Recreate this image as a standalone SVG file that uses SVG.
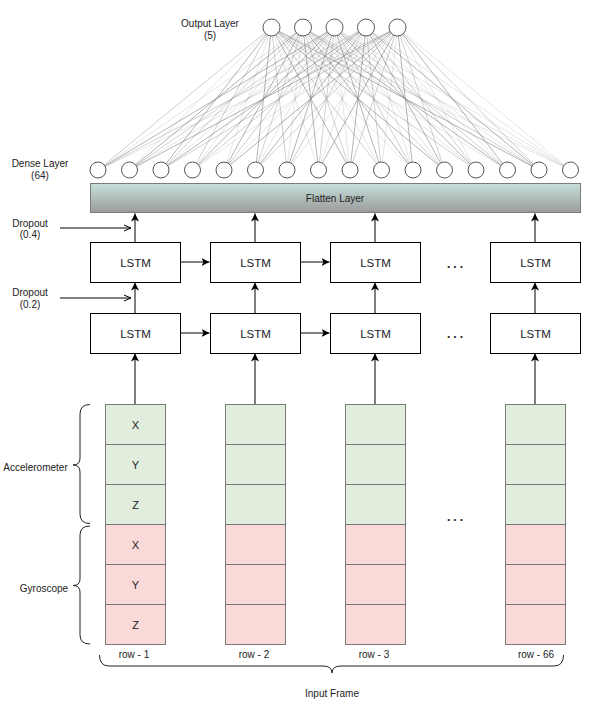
<svg xmlns="http://www.w3.org/2000/svg" width="590" height="708" viewBox="0 0 590 708">
<style>
text{font-family:"Liberation Sans",Arial,sans-serif;fill:#222;font-size:10px;text-anchor:middle}
.neu{fill:#fff;stroke:#555;stroke-width:1}
.lstm{fill:#fff;stroke:#000;stroke-width:1}
.lstm-t{font-size:11.5px}
.ax{font-size:11px}
.acc{fill:#e1eedd;stroke:#777;stroke-width:1}
.gyr{fill:#fadad8;stroke:#777;stroke-width:1}
.arr{stroke:#000;stroke-width:1;fill:none;marker-end:url(#ah)}
.drop{stroke:#000;stroke-width:1;fill:none;marker-end:url(#oh)}
.br{stroke:#222;stroke-width:1;fill:none}
.dots{font-size:12px;font-weight:bold;letter-spacing:3px}
.e0{stroke:#888;stroke-opacity:0.4}
.e1{stroke:#888;stroke-opacity:0.22}
.e2{stroke:#777;stroke-opacity:0.55}
line{stroke-width:1}
</style>
<defs>
<linearGradient id="fl" x1="0" y1="0" x2="0" y2="1">
<stop offset="0" stop-color="#c6e0db"/>
<stop offset="1" stop-color="#9b9b9b"/>
</linearGradient>
<marker id="ah" markerUnits="userSpaceOnUse" markerWidth="10" markerHeight="10" refX="8" refY="4" orient="auto">
<path d="M0,0 L8,4 L0,8 L2,4 z" fill="#000"/>
</marker>
<marker id="oh" markerUnits="userSpaceOnUse" markerWidth="10" markerHeight="10" refX="7" refY="4" orient="auto">
<path d="M0,1 L7,4 L0,7" fill="none" stroke="#000" stroke-width="1"/>
</marker>
</defs>
<rect width="590" height="708" fill="#fff"/>

<g id="connectors">
<g id="dense-output-edges">
<line class="e0" x1="271.5" y1="27.5" x2="98" y2="170"/>
<line class="e1" x1="271.5" y1="27.5" x2="129.5" y2="170"/>
<line class="e2" x1="271.5" y1="27.5" x2="161" y2="170"/>
<line class="e0" x1="271.5" y1="27.5" x2="192.5" y2="170"/>
<line class="e1" x1="271.5" y1="27.5" x2="224" y2="170"/>
<line class="e2" x1="271.5" y1="27.5" x2="255.5" y2="170"/>
<line class="e0" x1="271.5" y1="27.5" x2="287" y2="170"/>
<line class="e1" x1="271.5" y1="27.5" x2="318.5" y2="170"/>
<line class="e2" x1="271.5" y1="27.5" x2="350" y2="170"/>
<line class="e0" x1="271.5" y1="27.5" x2="381.5" y2="170"/>
<line class="e1" x1="271.5" y1="27.5" x2="413" y2="170"/>
<line class="e2" x1="271.5" y1="27.5" x2="444.5" y2="170"/>
<line class="e0" x1="271.5" y1="27.5" x2="476" y2="170"/>
<line class="e1" x1="271.5" y1="27.5" x2="507.5" y2="170"/>
<line class="e2" x1="271.5" y1="27.5" x2="539" y2="170"/>
<line class="e1" x1="271.5" y1="27.5" x2="570.5" y2="170"/>

<line class="e1" x1="303" y1="27.5" x2="98" y2="170"/>
<line class="e2" x1="303" y1="27.5" x2="129.5" y2="170"/>
<line class="e0" x1="303" y1="27.5" x2="161" y2="170"/>
<line class="e1" x1="303" y1="27.5" x2="192.5" y2="170"/>
<line class="e2" x1="303" y1="27.5" x2="224" y2="170"/>
<line class="e0" x1="303" y1="27.5" x2="255.5" y2="170"/>
<line class="e1" x1="303" y1="27.5" x2="287" y2="170"/>
<line class="e2" x1="303" y1="27.5" x2="318.5" y2="170"/>
<line class="e0" x1="303" y1="27.5" x2="350" y2="170"/>
<line class="e1" x1="303" y1="27.5" x2="381.5" y2="170"/>
<line class="e2" x1="303" y1="27.5" x2="413" y2="170"/>
<line class="e0" x1="303" y1="27.5" x2="444.5" y2="170"/>
<line class="e1" x1="303" y1="27.5" x2="476" y2="170"/>
<line class="e2" x1="303" y1="27.5" x2="507.5" y2="170"/>
<line class="e0" x1="303" y1="27.5" x2="539" y2="170"/>
<line class="e1" x1="303" y1="27.5" x2="570.5" y2="170"/>

<line class="e2" x1="334.5" y1="27.5" x2="98" y2="170"/>
<line class="e0" x1="334.5" y1="27.5" x2="129.5" y2="170"/>
<line class="e1" x1="334.5" y1="27.5" x2="161" y2="170"/>
<line class="e2" x1="334.5" y1="27.5" x2="192.5" y2="170"/>
<line class="e0" x1="334.5" y1="27.5" x2="224" y2="170"/>
<line class="e1" x1="334.5" y1="27.5" x2="255.5" y2="170"/>
<line class="e2" x1="334.5" y1="27.5" x2="287" y2="170"/>
<line class="e0" x1="334.5" y1="27.5" x2="318.5" y2="170"/>
<line class="e1" x1="334.5" y1="27.5" x2="350" y2="170"/>
<line class="e2" x1="334.5" y1="27.5" x2="381.5" y2="170"/>
<line class="e0" x1="334.5" y1="27.5" x2="413" y2="170"/>
<line class="e1" x1="334.5" y1="27.5" x2="444.5" y2="170"/>
<line class="e2" x1="334.5" y1="27.5" x2="476" y2="170"/>
<line class="e0" x1="334.5" y1="27.5" x2="507.5" y2="170"/>
<line class="e1" x1="334.5" y1="27.5" x2="539" y2="170"/>
<line class="e1" x1="334.5" y1="27.5" x2="570.5" y2="170"/>

<line class="e0" x1="366" y1="27.5" x2="98" y2="170"/>
<line class="e1" x1="366" y1="27.5" x2="129.5" y2="170"/>
<line class="e2" x1="366" y1="27.5" x2="161" y2="170"/>
<line class="e0" x1="366" y1="27.5" x2="192.5" y2="170"/>
<line class="e1" x1="366" y1="27.5" x2="224" y2="170"/>
<line class="e2" x1="366" y1="27.5" x2="255.5" y2="170"/>
<line class="e0" x1="366" y1="27.5" x2="287" y2="170"/>
<line class="e1" x1="366" y1="27.5" x2="318.5" y2="170"/>
<line class="e2" x1="366" y1="27.5" x2="350" y2="170"/>
<line class="e0" x1="366" y1="27.5" x2="381.5" y2="170"/>
<line class="e1" x1="366" y1="27.5" x2="413" y2="170"/>
<line class="e2" x1="366" y1="27.5" x2="444.5" y2="170"/>
<line class="e0" x1="366" y1="27.5" x2="476" y2="170"/>
<line class="e1" x1="366" y1="27.5" x2="507.5" y2="170"/>
<line class="e2" x1="366" y1="27.5" x2="539" y2="170"/>
<line class="e1" x1="366" y1="27.5" x2="570.5" y2="170"/>

<line class="e1" x1="397.5" y1="27.5" x2="98" y2="170"/>
<line class="e2" x1="397.5" y1="27.5" x2="129.5" y2="170"/>
<line class="e0" x1="397.5" y1="27.5" x2="161" y2="170"/>
<line class="e1" x1="397.5" y1="27.5" x2="192.5" y2="170"/>
<line class="e2" x1="397.5" y1="27.5" x2="224" y2="170"/>
<line class="e0" x1="397.5" y1="27.5" x2="255.5" y2="170"/>
<line class="e1" x1="397.5" y1="27.5" x2="287" y2="170"/>
<line class="e2" x1="397.5" y1="27.5" x2="318.5" y2="170"/>
<line class="e0" x1="397.5" y1="27.5" x2="350" y2="170"/>
<line class="e1" x1="397.5" y1="27.5" x2="381.5" y2="170"/>
<line class="e2" x1="397.5" y1="27.5" x2="413" y2="170"/>
<line class="e0" x1="397.5" y1="27.5" x2="444.5" y2="170"/>
<line class="e1" x1="397.5" y1="27.5" x2="476" y2="170"/>
<line class="e2" x1="397.5" y1="27.5" x2="507.5" y2="170"/>
<line class="e0" x1="397.5" y1="27.5" x2="539" y2="170"/>
<line class="e1" x1="397.5" y1="27.5" x2="570.5" y2="170"/>
</g>

<g id="arrows">
<path class="arr" d="M135,242 V213.5"/>
<path class="arr" d="M255,242 V213.5"/>
<path class="arr" d="M375,242 V213.5"/>
<path class="arr" d="M535,242 V213.5"/>
<path class="arr" d="M135,313 V282.5"/>
<path class="arr" d="M255,313 V282.5"/>
<path class="arr" d="M375,313 V282.5"/>
<path class="arr" d="M535,313 V282.5"/>
<path class="arr" d="M135,404 V353.5"/>
<path class="arr" d="M255,404 V353.5"/>
<path class="arr" d="M375,404 V353.5"/>
<path class="arr" d="M535,404 V353.5"/>
<path class="arr" d="M180,262 H209.5"/>
<path class="arr" d="M300,262 H329.5"/>
<path class="arr" d="M180,333 H209.5"/>
<path class="arr" d="M300,333 H329.5"/>
<path class="drop" d="M60,228 H131"/>
<path class="drop" d="M60,298 H131"/>
</g>
</g>

<g id="output-layer">
<circle class="neu" cx="271.5" cy="27.5" r="8.5"/>
<circle class="neu" cx="303" cy="27.5" r="8.5"/>
<circle class="neu" cx="334.5" cy="27.5" r="8.5"/>
<circle class="neu" cx="366" cy="27.5" r="8.5"/>
<circle class="neu" cx="397.5" cy="27.5" r="8.5"/>
<text x="210" y="27">Output Layer</text>
<text x="210" y="38.5">(5)</text>
</g>

<g id="dense-layer">
<circle class="neu" cx="98" cy="170" r="8"/>
<circle class="neu" cx="129.5" cy="170" r="8"/>
<circle class="neu" cx="161" cy="170" r="8"/>
<circle class="neu" cx="192.5" cy="170" r="8"/>
<circle class="neu" cx="224" cy="170" r="8"/>
<circle class="neu" cx="255.5" cy="170" r="8"/>
<circle class="neu" cx="287" cy="170" r="8"/>
<circle class="neu" cx="318.5" cy="170" r="8"/>
<circle class="neu" cx="350" cy="170" r="8"/>
<circle class="neu" cx="381.5" cy="170" r="8"/>
<circle class="neu" cx="413" cy="170" r="8"/>
<circle class="neu" cx="444.5" cy="170" r="8"/>
<circle class="neu" cx="476" cy="170" r="8"/>
<circle class="neu" cx="507.5" cy="170" r="8"/>
<circle class="neu" cx="539" cy="170" r="8"/>
<circle class="neu" cx="570.5" cy="170" r="8"/>
<text x="40" y="167">Dense Layer</text>
<text x="40" y="178.5">(64)</text>
</g>

<g id="flatten-layer">
<rect x="90.5" y="183.5" width="490" height="29" fill="url(#fl)" stroke="#7a7a7a"/>
<text x="335" y="201.5">Flatten Layer</text>
</g>

<g id="dropout-labels">
<text x="30" y="227">Dropout</text>
<text x="30" y="238">(0.4)</text>
<text x="30" y="296">Dropout</text>
<text x="30" y="308">(0.2)</text>
</g>

<g id="lstm-top">
<g id="lstm-t1"><rect class="lstm" x="90.5" y="242.5" width="90" height="40"/><text class="lstm-t" x="135.5" y="266.5">LSTM</text></g>
<g id="lstm-t2"><rect class="lstm" x="210.5" y="242.5" width="90" height="40"/><text class="lstm-t" x="255.5" y="266.5">LSTM</text></g>
<g id="lstm-t3"><rect class="lstm" x="330.5" y="242.5" width="90" height="40"/><text class="lstm-t" x="375.5" y="266.5">LSTM</text></g>
<g id="lstm-t4"><rect class="lstm" x="490.5" y="242.5" width="90" height="40"/><text class="lstm-t" x="535.5" y="266.5">LSTM</text></g>
<text class="dots" x="456.5" y="268">...</text>
</g>

<g id="lstm-bottom">
<g id="lstm-b1"><rect class="lstm" x="90.5" y="313.5" width="90" height="40"/><text class="lstm-t" x="135.5" y="337.5">LSTM</text></g>
<g id="lstm-b2"><rect class="lstm" x="210.5" y="313.5" width="90" height="40"/><text class="lstm-t" x="255.5" y="337.5">LSTM</text></g>
<g id="lstm-b3"><rect class="lstm" x="330.5" y="313.5" width="90" height="40"/><text class="lstm-t" x="375.5" y="337.5">LSTM</text></g>
<g id="lstm-b4"><rect class="lstm" x="490.5" y="313.5" width="90" height="40"/><text class="lstm-t" x="535.5" y="337.5">LSTM</text></g>
<text class="dots" x="456.5" y="338">...</text>
</g>

<g id="row-1">
<rect class="acc" x="105.5" y="404.5" width="60" height="40"/>
<rect class="acc" x="105.5" y="444.5" width="60" height="40"/>
<rect class="acc" x="105.5" y="484.5" width="60" height="40"/>
<rect class="gyr" x="105.5" y="524.5" width="60" height="40"/>
<rect class="gyr" x="105.5" y="564.5" width="60" height="40"/>
<rect class="gyr" x="105.5" y="604.5" width="60" height="40"/>
<text class="ax" x="135.5" y="428.5">X</text>
<text class="ax" x="135.5" y="468.5">Y</text>
<text class="ax" x="135.5" y="508.5">Z</text>
<text class="ax" x="135.5" y="548.5">X</text>
<text class="ax" x="135.5" y="588.5">Y</text>
<text class="ax" x="135.5" y="628.5">Z</text>
<text x="134" y="657.5">row - 1</text>
</g>

<g id="row-2">
<rect class="acc" x="225.5" y="404.5" width="60" height="40"/>
<rect class="acc" x="225.5" y="444.5" width="60" height="40"/>
<rect class="acc" x="225.5" y="484.5" width="60" height="40"/>
<rect class="gyr" x="225.5" y="524.5" width="60" height="40"/>
<rect class="gyr" x="225.5" y="564.5" width="60" height="40"/>
<rect class="gyr" x="225.5" y="604.5" width="60" height="40"/>
<text x="254" y="657.5">row - 2</text>
</g>

<g id="row-3">
<rect class="acc" x="345.5" y="404.5" width="60" height="40"/>
<rect class="acc" x="345.5" y="444.5" width="60" height="40"/>
<rect class="acc" x="345.5" y="484.5" width="60" height="40"/>
<rect class="gyr" x="345.5" y="524.5" width="60" height="40"/>
<rect class="gyr" x="345.5" y="564.5" width="60" height="40"/>
<rect class="gyr" x="345.5" y="604.5" width="60" height="40"/>
<text x="374" y="657.5">row - 3</text>
</g>

<g id="row-66">
<rect class="acc" x="505.5" y="404.5" width="60" height="40"/>
<rect class="acc" x="505.5" y="444.5" width="60" height="40"/>
<rect class="acc" x="505.5" y="484.5" width="60" height="40"/>
<rect class="gyr" x="505.5" y="524.5" width="60" height="40"/>
<rect class="gyr" x="505.5" y="564.5" width="60" height="40"/>
<rect class="gyr" x="505.5" y="604.5" width="60" height="40"/>
<text x="536" y="657.5">row - 66</text>
</g>

<text class="dots" x="456.5" y="521">...</text>

<g id="accelerometer">
<path class="br" d="M90,404.5 Q80,404.5 80,414 L80,458 Q80,465 73,465 Q80,465 80,472 L80,514 Q80,523.5 90,523.5"/>
<text x="35.5" y="470.5">Accelerometer</text>
</g>

<g id="gyroscope">
<path class="br" d="M90,526 Q80,526 80,535 L80,579 Q80,585.5 73,585.5 Q80,585.5 80,592 L80,635 Q80,644 90,644"/>
<text x="44" y="592">Gyroscope</text>
</g>

<g id="input-frame">
<path class="br" d="M99.5,655 Q99.5,666 109,666 L323,666 Q332,666 332,673 Q332,666 341,666 L554,666 Q563.5,666 563.5,655"/>
<text x="332" y="697">Input Frame</text>
</g>
</svg>
